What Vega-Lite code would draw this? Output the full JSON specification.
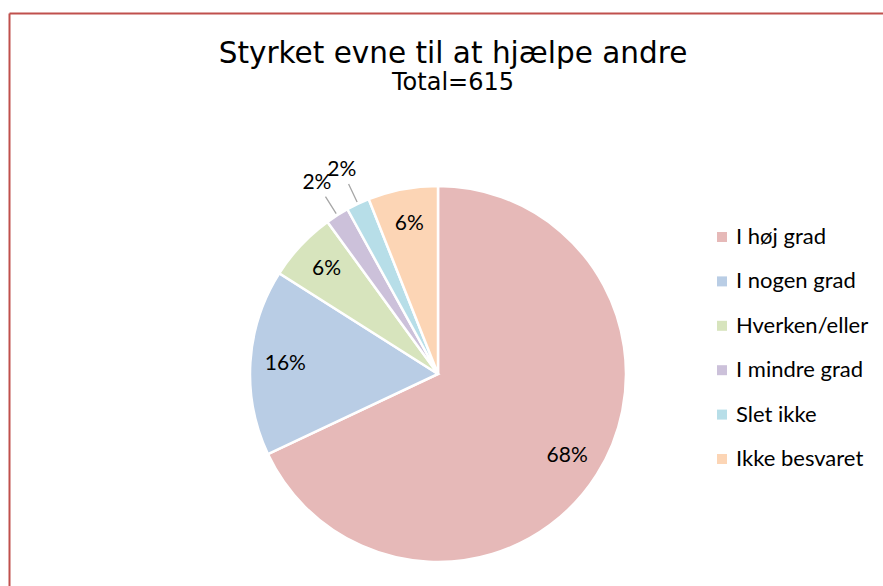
{
  "$schema": "https://vega.github.io/schema/vega-lite/v6.json",
  "width": 858,
  "height": 722,
  "autosize": {"type": "none"},
  "padding": {"left": 9, "top": 13, "right": 16, "bottom": 0},
  "background": "white",
  "title": {
    "text": "Styrket evne til at hjælpe andre",
    "subtitle": "Total=615",
    "anchor": "middle",
    "frame": "group",
    "offset": -83,
    "dx": 15,
    "font": "DejaVu Sans",
    "fontSize": 29.5,
    "fontWeight": "normal",
    "color": "black",
    "subtitleFont": "DejaVu Sans",
    "subtitleFontSize": 24,
    "subtitleColor": "black",
    "subtitlePadding": 2
  },
  "data": {
    "values": [
      {"svar": "I høj grad", "nr": 1, "andel": 0.68},
      {"svar": "I nogen grad", "nr": 2, "andel": 0.16},
      {"svar": "Hverken/eller", "nr": 3, "andel": 0.06},
      {"svar": "I mindre grad", "nr": 4, "andel": 0.02},
      {"svar": "Slet ikke", "nr": 5, "andel": 0.02},
      {"svar": "Ikke besvaret", "nr": 6, "andel": 0.06}
    ]
  },
  "layer": [
    {
      "mark": {"type": "point", "opacity": 0},
      "encoding": {
        "x": {
          "field": "nr",
          "type": "quantitative",
          "scale": {"range": [0, 874]},
          "axis": {"orient": "top", "domainColor": "#C0504D", "domainWidth": 2, "ticks": false, "labels": false, "grid": false, "title": null}
        },
        "y": {
          "field": "andel",
          "type": "quantitative",
          "axis": {"orient": "left", "domainColor": "#C0504D", "domainWidth": 2, "ticks": false, "labels": false, "grid": false, "title": null}
        }
      }
    },
    {
      "mark": {"type": "arc", "outerRadius": 188, "stroke": "white", "strokeWidth": 2.5},
      "encoding": {
        "theta": {"field": "andel", "type": "quantitative", "stack": true},
        "order": {"field": "nr", "type": "quantitative"},
        "color": {
          "field": "svar",
          "type": "nominal",
          "scale": {
            "domain": ["I høj grad", "I nogen grad", "Hverken/eller", "I mindre grad", "Slet ikke", "Ikke besvaret"],
            "range": ["#E6B9B8", "#B9CDE5", "#D7E4BD", "#CCC1DA", "#B7DEE8", "#FCD5B5"]
          },
          "legend": {
            "orient": "none",
            "legendX": 702,
            "legendY": 213,
            "title": null,
            "labelFont": "Lato",
            "labelFontSize": 22,
            "labelColor": "black",
            "symbolType": "square",
            "symbolSize": 100,
            "symbolStrokeWidth": 0,
            "rowPadding": 22.4,
            "labelOffset": 3,
            "padding": 0,
            "labelLimit": 300
          }
        }
      }
    },
    {
      "mark": {"type": "arc", "outerRadius": 210, "innerRadius": 190, "padAngle": 0.5, "stroke": "#A6A6A6", "strokeWidth": 1.3, "fillOpacity": 0, "fill": "white"},
      "encoding": {
        "theta": {"field": "andel", "type": "quantitative", "stack": true},
        "order": {"field": "nr", "type": "quantitative"},
        "strokeOpacity": {"condition": {"test": "datum.andel < 0.05", "value": 1}, "value": 0}
      }
    },
    {
      "mark": {"type": "text", "radius": 153, "font": "Lato", "fontSize": 21},
      "encoding": {
        "theta": {"field": "andel", "type": "quantitative", "stack": true},
        "order": {"field": "nr", "type": "quantitative"},
        "color": {"value": "black"},
        "text": {"condition": {"test": "datum.andel >= 0.05", "field": "andel", "format": ".0%"}, "value": ""}
      }
    },
    {
      "mark": {"type": "text", "radius": 226, "font": "Lato", "fontSize": 21},
      "encoding": {
        "theta": {"field": "andel", "type": "quantitative", "stack": true},
        "order": {"field": "nr", "type": "quantitative"},
        "color": {"value": "black"},
        "text": {"condition": {"test": "datum.andel < 0.05", "field": "andel", "format": ".0%"}, "value": ""}
      }
    }
  ],
  "config": {
    "view": {"stroke": null}
  }
}
